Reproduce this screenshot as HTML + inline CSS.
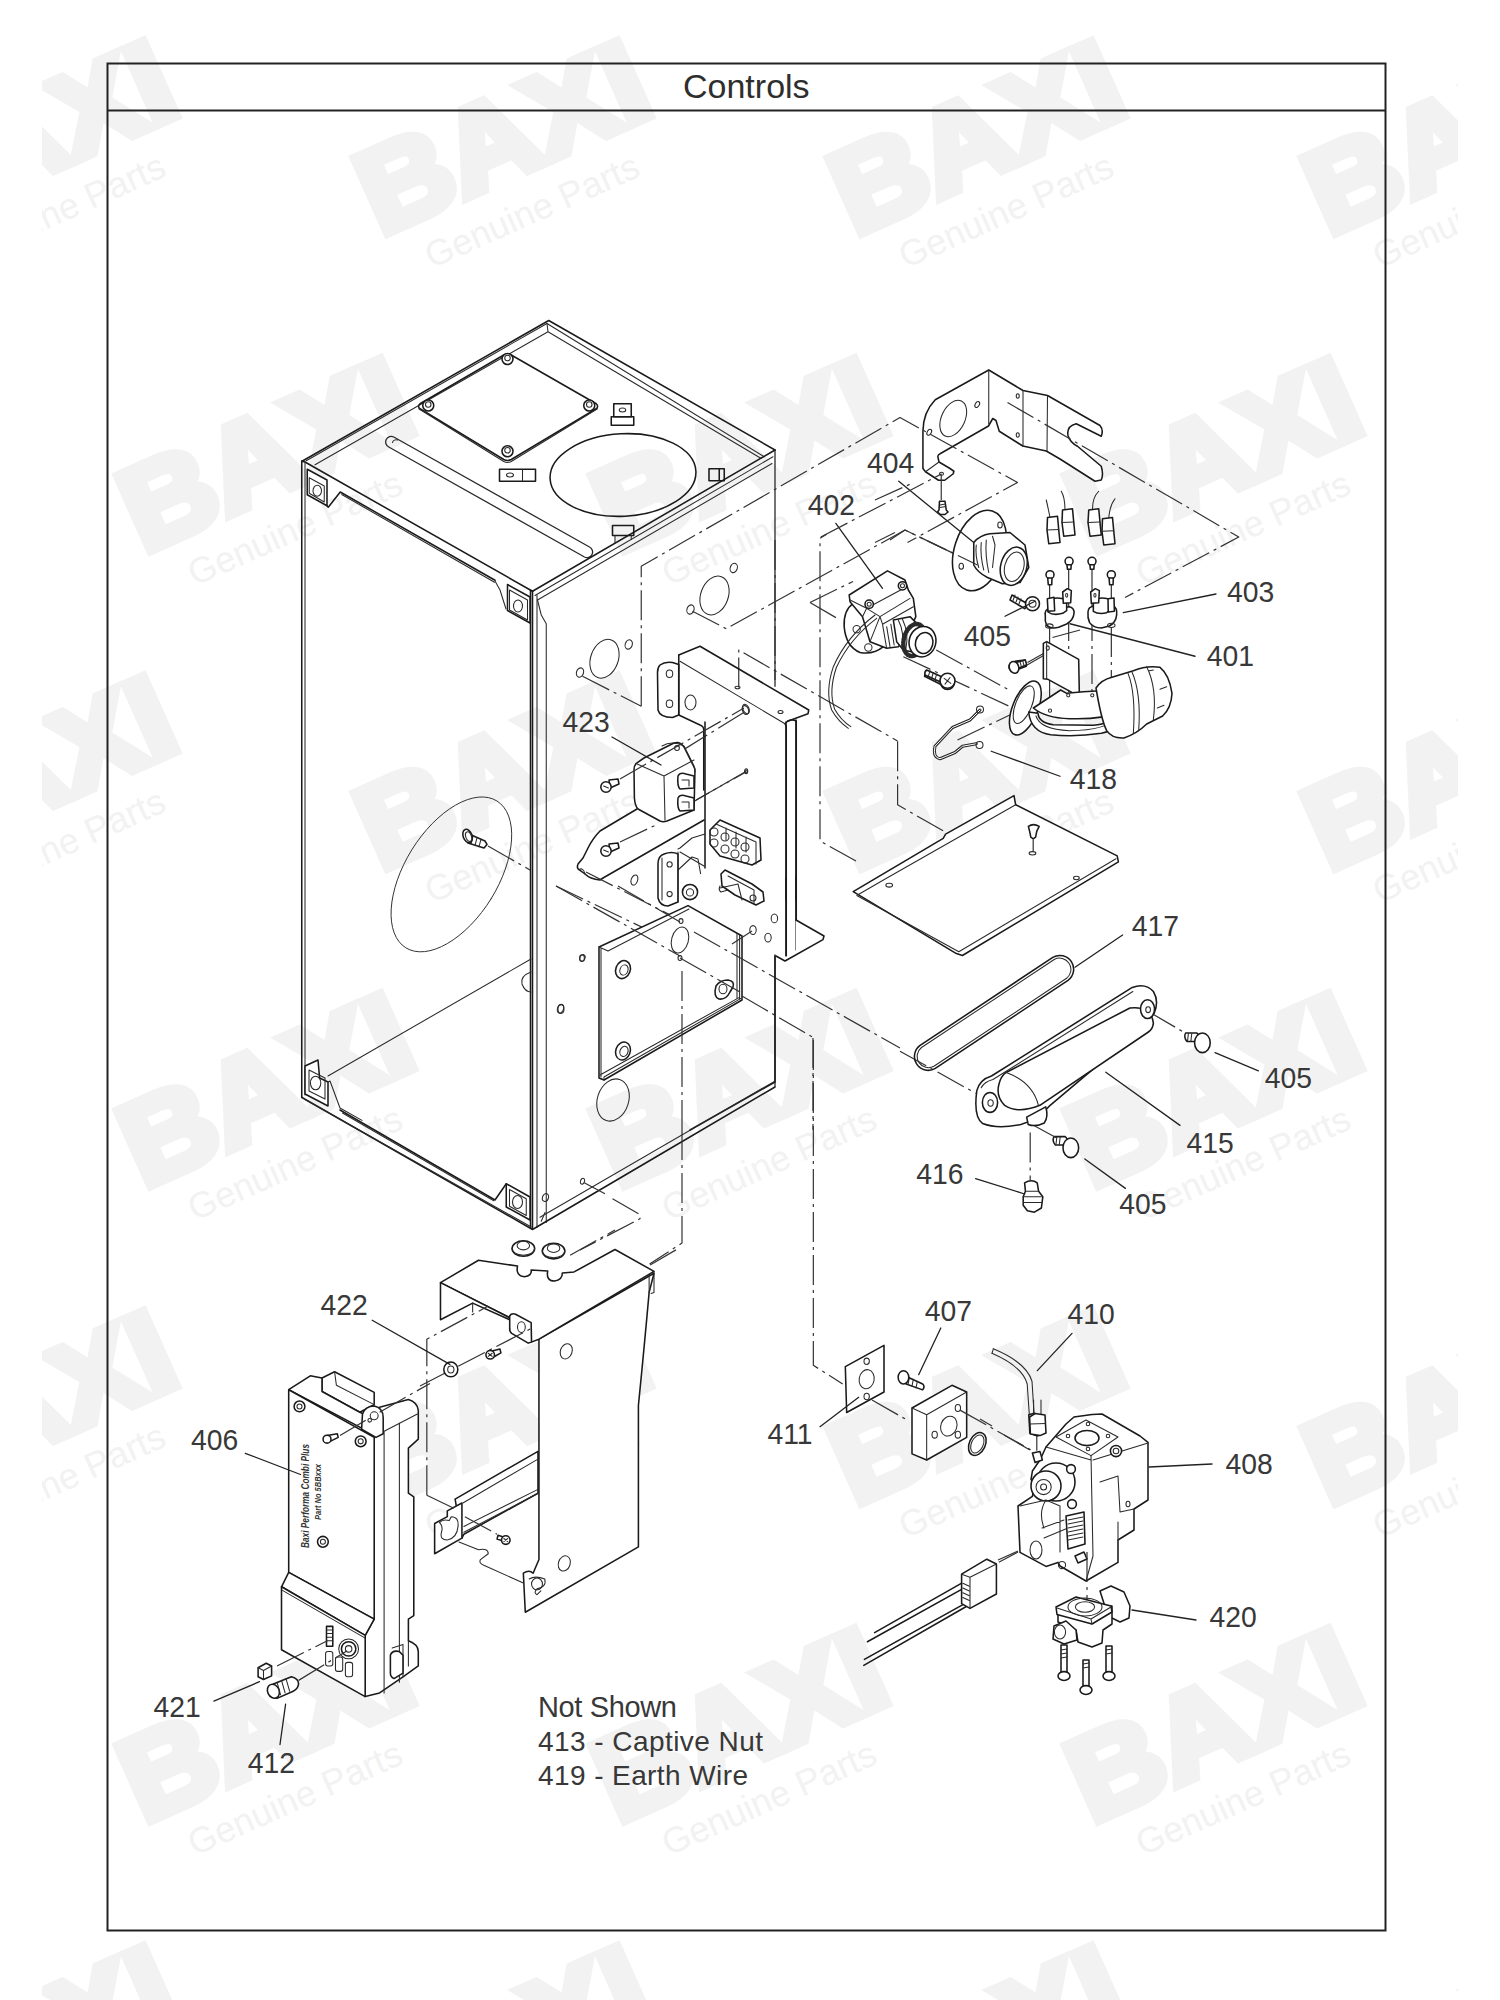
<!DOCTYPE html>
<html><head><meta charset="utf-8"><title>Controls</title>
<style>
html,body{margin:0;padding:0;background:#fff;}
body{width:1500px;height:2000px;overflow:hidden;position:relative;font-family:"Liberation Sans",sans-serif;}
svg{position:absolute;left:0;top:0;}
.wmB{font-family:"Liberation Sans",sans-serif;font-weight:bold;font-size:118px;fill:#f2f2f2;stroke:#f2f2f2;stroke-width:10px;stroke-linejoin:miter;}
.wmG{font-family:"Liberation Sans",sans-serif;font-size:36px;fill:#f2f2f2;}
.lbl{font-family:"Liberation Sans",sans-serif;font-size:29.5px;fill:#383838;}
.d,.t,.w,.dd,.ld{vector-effect:non-scaling-stroke;stroke-linejoin:round;stroke-linecap:round;}
.d{fill:none;stroke:#1a1a1a;stroke-width:1.55;}
.t{fill:none;stroke:#2a2a2a;stroke-width:1.05;}
.w{fill:#fff;stroke:#1a1a1a;stroke-width:1.55;}
.dd{fill:none;stroke:#333;stroke-width:1.2;stroke-dasharray:30 5 3 5;stroke-linecap:butt;}
.ld{fill:none;stroke:#222;stroke-width:1.3;}
</style></head>
<body>
<svg width="1500" height="2000" viewBox="0 0 1500 2000">
<defs>
<clipPath id="wmclip"><rect x="42" y="0" width="1416" height="2000"/></clipPath>
<g id="wm">
<text class="wmB" x="0" y="0" transform="scale(1.076,1)">BAXI</text>
<text class="wmG" x="33.5" y="51">Genuine Parts</text>
</g>
</defs>
<g clip-path="url(#wmclip)" id="wmlayer">
<use href="#wm" transform="translate(-330.5,-81.6) rotate(-24)"/>
<use href="#wm" transform="translate(143.5,-81.6) rotate(-24)"/>
<use href="#wm" transform="translate(617.5,-81.6) rotate(-24)"/>
<use href="#wm" transform="translate(1091.5,-81.6) rotate(-24)"/>
<use href="#wm" transform="translate(-93.5,235.9) rotate(-24)"/>
<use href="#wm" transform="translate(380.5,235.9) rotate(-24)"/>
<use href="#wm" transform="translate(854.5,235.9) rotate(-24)"/>
<use href="#wm" transform="translate(1328.5,235.9) rotate(-24)"/>
<use href="#wm" transform="translate(-330.5,553.4) rotate(-24)"/>
<use href="#wm" transform="translate(143.5,553.4) rotate(-24)"/>
<use href="#wm" transform="translate(617.5,553.4) rotate(-24)"/>
<use href="#wm" transform="translate(1091.5,553.4) rotate(-24)"/>
<use href="#wm" transform="translate(-93.5,870.9) rotate(-24)"/>
<use href="#wm" transform="translate(380.5,870.9) rotate(-24)"/>
<use href="#wm" transform="translate(854.5,870.9) rotate(-24)"/>
<use href="#wm" transform="translate(1328.5,870.9) rotate(-24)"/>
<use href="#wm" transform="translate(-330.5,1188.4) rotate(-24)"/>
<use href="#wm" transform="translate(143.5,1188.4) rotate(-24)"/>
<use href="#wm" transform="translate(617.5,1188.4) rotate(-24)"/>
<use href="#wm" transform="translate(1091.5,1188.4) rotate(-24)"/>
<use href="#wm" transform="translate(-93.5,1505.9) rotate(-24)"/>
<use href="#wm" transform="translate(380.5,1505.9) rotate(-24)"/>
<use href="#wm" transform="translate(854.5,1505.9) rotate(-24)"/>
<use href="#wm" transform="translate(1328.5,1505.9) rotate(-24)"/>
<use href="#wm" transform="translate(-330.5,1823.4) rotate(-24)"/>
<use href="#wm" transform="translate(143.5,1823.4) rotate(-24)"/>
<use href="#wm" transform="translate(617.5,1823.4) rotate(-24)"/>
<use href="#wm" transform="translate(1091.5,1823.4) rotate(-24)"/>
<use href="#wm" transform="translate(-93.5,2140.9) rotate(-24)"/>
<use href="#wm" transform="translate(380.5,2140.9) rotate(-24)"/>
<use href="#wm" transform="translate(854.5,2140.9) rotate(-24)"/>
<use href="#wm" transform="translate(1328.5,2140.9) rotate(-24)"/>
</g>

<!-- frame -->
<rect x="107.5" y="63.5" width="1278" height="1867" fill="none" stroke="#222" stroke-width="2"/>
<line x1="107" y1="110.5" x2="1386" y2="110.5" stroke="#222" stroke-width="2"/>
<text x="683" y="97.5" style="font-size:34px;fill:#2e2e2e">Controls</text>

<g id="diagram">
<!-- G1 top face, zoom [280,310] x4 -->
<g>
<path class="d" d="M 302 461.25 L 548.75 320.5 L 775 450"/>
<path class="t" d="M 306.25 460.75 L 547 323.5 L 764.25 456.75"/>
<path class="t" d="M 315 464.75 L 548 331.75 L 761.25 458.5 M 547 323.5 L 548 331.75"/>
<path class="d" d="M 302 461.25 L 305 462 L 532.5 591.25"/>
<path class="d" d="M 327 505.75 L 328.25 507.25 L 340.25 492 L 495 580.25"/>
<path class="t" d="M 341.75 494.5 L 494.5 582.25"/>
<path class="w" d="M 307.25 469.25 L 327 480 L 327 505.75 L 307.25 494.75 Z"/>
<path class="t" d="M 309.25 477.75 L 324.25 486 L 324.25 502 L 309.25 493.25 Z"/>
<ellipse class="t" cx="317.25" cy="490.75" rx="4.25" ry="5.5"/>
<!-- access panel -->
<path class="d" d="M 420 403.75 Q 417 406.25 420 408.75 L 503.75 459.5 Q 507.5 461.5 511.25 459.5 L 596.25 408.75 Q 599 406.25 596.25 403.75 L 511.25 355 Q 507.5 353 503.75 355 Z"/>
<path class="t" d="M 418.75 408.75 L 503.75 461.5 Q 507.5 463.5 511.25 461.5 L 597.5 408.75"/>
<circle class="w" cx="428.25" cy="405.5" r="5.5"/><circle class="t" cx="428.25" cy="404.5" r="2.75"/>
<circle class="w" cx="507.5" cy="359" r="5.5"/><circle class="t" cx="507.5" cy="358" r="2.75"/>
<circle class="w" cx="589.25" cy="405.5" r="5.5"/><circle class="t" cx="589.25" cy="404.5" r="2.75"/>
<circle class="w" cx="507.5" cy="451.25" r="5.5"/><circle class="t" cx="507.5" cy="450.25" r="2.75"/>
<!-- slot -->
<path class="t" d="M 393.75 437 L 589.5 547 A 5.5 5.5 0 0 1 584.5 557 L 388.75 447 A 5.5 5.5 0 0 1 393.75 437 Z" style="stroke-width:1.3"/>
<path class="t" d="M 392.5 442.5 A 3.75 3.75 0 0 1 397.5 440"/>
<!-- tabs -->
<rect class="d" x="499.5" y="469.25" width="36" height="12"/>
<line class="t" x1="522.5" y1="469.25" x2="522.5" y2="481.25"/>
<ellipse class="t" cx="510" cy="475" rx="3.5" ry="2"/>
<rect class="d" x="613.75" y="403.75" width="17.5" height="13"/>
<rect class="d" x="611.25" y="416.75" width="22.5" height="8.5"/>
<ellipse class="t" cx="622.5" cy="410" rx="3.25" ry="2"/>
<rect class="d" x="612.5" y="525.5" width="21.25" height="10"/>
<path class="t" d="M 615 535.5 L 615 542.5 M 631.25 535.5 L 631.25 539.5"/>
<path class="d" d="M 709 468.75 L 724.25 468.75 L 724.25 480.75 L 709 480.75 Z M 719.25 468.75 L 719.25 480.75"/>
<ellipse class="d" cx="623" cy="475" rx="73" ry="41.25" transform="rotate(-3 623 475)"/>
<!-- left vertical edge -->
<path class="d" d="M 301.75 461 L 301.75 1097.5"/>
<path class="t" d="M 305 462 L 305 1095"/>
</g>
</g>


<!-- G2 right face upper, zoom [500,540] x4 -->
<g>
<path class="d" d="M 532.5 591.25 L 775 450"/>
<path class="t" d="M 535 595.5 L 773 456.75"/>
<path class="t" d="M 537.5 600 L 772 463.5"/>
<path class="d" d="M 530.5 590 L 530.5 1227.5"/>
<path class="d" d="M 532.5 591.25 L 532.5 1228.75"/>
<path class="t" d="M 537 595.5 L 537 1227.5"/>
<path class="t" d="M 537.5 600 L 541.25 615 L 546.25 623.75 L 546.25 1222.5"/>
<path class="t" d="M 775 450 L 775 686.25 M 775 955 L 775 1086.25" style="stroke-width:1.3"/>
<ellipse class="t" cx="604.5" cy="658.75" rx="13.75" ry="20" transform="rotate(20 604.5 658.75)"/>
<ellipse class="t" cx="580" cy="672.5" rx="3.5" ry="4.75" transform="rotate(20 580 672.5)"/>
<ellipse class="t" cx="628.75" cy="644.5" rx="3.5" ry="4.75" transform="rotate(20 628.75 644.5)"/>
<ellipse class="t" cx="714.5" cy="595.5" rx="13.75" ry="20" transform="rotate(20 714.5 595.5)"/>
<ellipse class="t" cx="690.5" cy="609.5" rx="3.5" ry="4.75" transform="rotate(20 690.5 609.5)"/>
<ellipse class="t" cx="733.75" cy="568" rx="3.5" ry="4.75" transform="rotate(20 733.75 568)"/>

<path class="dd" d="M 582.5 676.25 L 641.25 706.25"/>


<path class="dd" d="M 738.75 687.5 L 738.75 650 L 897.5 741"/>
<ellipse class="t" cx="737.5" cy="687.5" rx="2.5" ry="1.25"/>
<!-- 423 bracket -->
<path class="w" d="M 660 665 Q 665 661.25 672.5 662.5 L 678.75 664.5 L 678.75 715 L 672.5 717.5 Q 660 717.5 658 710 L 657.5 672.5 Q 657.5 667.5 660 665 Z"/>
<ellipse class="t" cx="669.5" cy="673.75" rx="3.25" ry="3.75"/>
<ellipse class="t" cx="669.5" cy="703.75" rx="3.25" ry="3.75"/>
<path class="d" d="M 678.75 655 L 700 646.25 L 808.75 710 L 808 713.75 L 787.5 721.25 L 785 723.75 L 786.25 726.25"/>
<path class="d" d="M 678.75 655 L 678.75 715 L 700 725 Q 703.75 726.25 703.75 730 L 703.75 790"/>
<path class="t" d="M 680 661.25 L 785 723.75"/>
<path class="d" d="M 786.25 726.25 L 786.25 960 M 796.25 721.25 L 796.25 950 M 787.5 721.25 Q 792.5 718.75 796.25 721.25"/>
<ellipse class="t" cx="690.5" cy="702.5" rx="5.5" ry="7.5"/>
<ellipse class="t" cx="745.5" cy="710" rx="3" ry="4.5" transform="rotate(-20 745.5 710)"/>
<ellipse class="t" cx="780.5" cy="712" rx="2.5" ry="1.5"/>
<path class="dd" d="M 743.75 712.5 L 675 755"/>
<path class="dd" d="M 746.25 771.25 L 675 812.5"/>
<ellipse class="t" cx="746.25" cy="771.25" rx="1.5" ry="2.5"/>

<path class="dd" d="M 775 540 L 775 680"/>
</g>


<!-- G3 upper right, zoom [875,370] x4 -->
<g>
<!-- 404 bracket -->
<path class="w" d="M 922.92 468.5 L 922.92 431.25 Q 923 412.5 935.25 399.75 L 988.75 370 L 1023 390.5 L 1047.5 395.5 L 1100 425.5 Q 1103.75 430 1101.25 436.25 L 1076.25 423.75 Q 1066.25 426.25 1068 435.5 Q 1070 442.5 1077.5 446.25 L 1101.25 466.25 Q 1103.75 475 1101.25 480 L 1095 481.25 L 1060 459 L 1046.25 451 L 1022.75 446 L 999.25 431.25 L 996 420.5 L 992.75 418.5 L 988.5 426 L 940.5 453.5 Q 937.5 455 937.88 456.75 L 939 462 L 950 468.5 L 953.88 471.25 L 953.25 473.75 L 944.75 480.25 L 938.5 480.25 L 925.5 471.75 Z"/>
<path class="t" d="M 925.5 471.75 L 939 462"/>
<path class="t" d="M 988.75 370 L 988.75 424 M 1023 390.5 L 1023 446 M 1047.5 395.5 L 1047 451"/>
<ellipse class="t" cx="953.25" cy="418.5" rx="11.75" ry="19.25" transform="rotate(25 953.25 418.5)"/>
<ellipse class="t" cx="977.25" cy="404.5" rx="2" ry="3.25" transform="rotate(30 977.25 404.5)"/>
<ellipse class="t" cx="929.25" cy="432.25" rx="2" ry="3.25" transform="rotate(30 929.25 432.25)"/>
<ellipse class="t" cx="1017.75" cy="396" rx="1.5" ry="2.25"/>
<ellipse class="t" cx="1017.75" cy="435" rx="1.5" ry="2.25"/>
<ellipse class="t" cx="941.5" cy="473.75" rx="2" ry="1.5"/>

<path class="dd" d="M 875 500 L 913.75 482.5"/>
<path class="dd" d="M 1007.5 402.5 L 1238.75 537 L 1125 597.5"/>
<path class="dd" d="M 941.25 475 L 941.25 500"/>
<path class="dd" d="M 890 540 L 905 530 L 977.5 565"/>
<path class="dd" d="M 875 542.5 L 895 532.5"/>
<!-- screw under foot -->
<path class="w" d="M 939.5 501.25 L 945 501.25 L 946.25 510 L 948 512 L 945 514.5 L 940.5 514.5 L 937.5 512 L 939 510 Z"/>
<path class="t" d="M 940 505 L 945.5 504 M 940 507.5 L 945.75 506.5"/>
<!-- fitting 404 -->
<ellipse class="w" cx="979.5" cy="550.5" rx="25" ry="41.5" transform="rotate(18 979.5 550.5)"/>
<ellipse class="t" cx="1000" cy="525" rx="2.25" ry="3"/>
<ellipse class="t" cx="961.25" cy="566.25" rx="2.25" ry="3"/>
<path class="w" d="M 973.75 542.5 Q 980 535 990 533.75 L 1010 532.5 L 1025 545 L 1028.75 567.5 L 1020 582.5 L 1002.5 583.75 L 987.5 577.5 Q 977.5 572.5 973.75 565 Z"/>
<path class="t" d="M 976.25 545 Q 975 555 978.75 567.5 M 981.25 542.5 Q 980 555 983.75 570 M 986.25 540 Q 985 555 988.75 572.5 M 992.5 536.25 L 995 545 L 992.5 567.5"/>
<ellipse class="w" cx="1013.75" cy="566.25" rx="13" ry="19.5" transform="rotate(15 1013.75 566.25)"/>
<ellipse class="t" cx="1014.25" cy="566.75" rx="9.5" ry="15" transform="rotate(15 1014.25 566.75)"/>
<!-- leader 404 -->
<path class="ld" d="M 898.75 481.25 L 973.75 542.5"/>
<!-- connectors 403 -->
<path class="t" d="M 1050 517.5 Q 1047.5 505 1046.25 500 M 1065 510 Q 1065 497.5 1061.25 491.25 M 1092.5 508.75 Q 1092.5 497.5 1098.75 491.25 M 1108.75 517.5 Q 1110 505 1115 498.75"/>
<path class="w" d="M 1047.5 517.5 L 1057.5 516.25 L 1058.75 530 L 1060 542.5 L 1048.75 543.75 L 1047 530 Z"/>
<path class="t" d="M 1047 530 L 1058.75 529.5"/>
<path class="w" d="M 1062.5 510 L 1072.5 508.75 L 1073.75 522.5 L 1075 535 L 1063.75 536.25 L 1062 522.5 Z"/>
<path class="t" d="M 1062 522.5 L 1073.75 522"/>
<path class="w" d="M 1088.75 510 L 1098.75 508.75 L 1100 522.5 L 1101.25 535 L 1090 536.25 L 1088 522.5 Z"/>
<path class="t" d="M 1088 522.5 L 1100 522"/>
<path class="w" d="M 1102.5 518.75 L 1112.5 517.5 L 1113.75 531.25 L 1115 543.75 L 1103.75 545 L 1102 531.25 Z"/>
<path class="t" d="M 1102 531.25 L 1113.75 530.75"/>
</g>

<!-- G4 zoom [875,560] x4 -->
<g>
<!-- screws 405 -->
<path class="w" d="M 1012 595 L 1027.5 603.75 L 1025 608.75 L 1010 600 Z"/>
<path class="t" d="M 1015 595 L 1013 600.5 M 1018 597 L 1016 602 M 1021 598.75 L 1019 603.75"/>
<circle class="w" cx="1032.5" cy="603.75" r="7"/>
<circle class="t" cx="1032.5" cy="603.75" r="3.5"/>
<path class="w" d="M 926.25 671.25 L 946.25 681.25 L 944.5 686.25 L 924.5 676.25 Z"/>
<path class="t" d="M 930 671.25 L 928 677 M 933.75 673 L 931.75 678.75 M 937.5 675 L 935.5 680.5"/>
<circle class="w" cx="947.5" cy="682.5" r="7"/>
<circle class="t" cx="947.5" cy="682.5" r="3.5"/>
<path class="w" d="M 1015 661.25 L 1025 660 L 1026.25 666.25 L 1016.25 670 Z"/>
<circle class="w" cx="1013" cy="667" r="4"/>
<path class="dd" d="M 1027.5 662.5 L 1047.5 651.25"/>
<path class="dd" d="M 936.25 650 L 1011.25 691.25"/>
<path class="dd" d="M 957.5 740 L 1015 712.5"/>
<path class="dd" d="M 1052.5 637.5 L 1080 630"/>
<!-- clip 418 -->
<path class="t" d="M 980 710 Q 975 715 970 720 L 952.5 727.5 L 935 746.25 Q 932.5 757.5 940 758.75 L 955 752.5 L 962.5 746.25 L 976.25 743.75" style="stroke-width:3"/>
<path class="t" d="M 980 710 Q 975 715 970 720 L 952.5 727.5 L 935 746.25 Q 932.5 757.5 940 758.75 L 955 752.5 L 962.5 746.25 L 976.25 743.75" style="stroke:#fff;stroke-width:1"/>
<circle class="t" cx="980" cy="709.5" r="3.5"/>
<circle class="t" cx="979.5" cy="745" r="3.5"/>
<!-- 402 part right part (continues from G5) -->

</g>


<!-- G5 402 part, zoom [760,500] x6 -->
<g>

<path class="dd" d="M 856 861 L 820 841 L 820 538.33 L 826.67 534.17"/>
<path class="dd" d="M 810 602.5 L 840 620"/>

<path class="dd" d="M 903.33 656.67 L 1010 706.67"/>




<!-- back disc -->
<path class="w" d="M 853.33 603.33 Q 843.33 610 844.17 626.67 Q 845.83 646.67 860 652.5 Q 873.33 655 883.33 646.67 L 876.67 608.33 Z"/>
<circle class="t" cx="856.67" cy="629.17" r="3.67"/>
<circle class="t" cx="868.33" cy="647.5" r="3.67"/>
<!-- body -->
<path class="w" d="M 849.17 595 L 887.5 570.83 L 905 580 L 908.33 590 L 913.33 598.33 L 915.83 616.67 L 906.67 636.67 L 898.33 646.67 L 886.67 648.33 L 870 641.67 L 862.5 616.67 L 850 601.67 Z"/>
<path class="t" d="M 850 600 L 866.67 608.33 L 906.67 586.67 M 866.67 608.33 L 880 616.67 L 910 598.33 M 880 616.67 L 882.5 624.17 L 913.33 606.67 M 880 616.67 L 870 641.67 M 882.5 624.17 L 886.67 648.33 M 866.67 608.33 L 862.5 616.67"/>
<circle class="w" cx="869.17" cy="604.17" r="4.17"/><circle class="t" cx="869.17" cy="604.17" r="2"/>
<circle class="w" cx="902.5" cy="585.83" r="4.17"/><circle class="t" cx="902.5" cy="585.83" r="2"/>
<path class="t" d="M 886.67 626.67 L 890 646.67 M 890.83 624.17 L 894.17 645"/>
<!-- nozzle -->
<path class="w" d="M 893.33 620 L 910 616.67 L 920 626.67 L 918.33 653.33 L 903.33 650 L 896.67 641.67 Z"/>
<path class="t" d="M 898.33 620 Q 905 633.33 901.67 648.33 M 902.5 619.17 Q 909.17 633.33 905.83 649.17"/>
<ellipse class="t" cx="914.17" cy="640" rx="10.33" ry="16.33" transform="rotate(15 914.17 640)" style="stroke-width:4.5;stroke:#2a2a2a;stroke-dasharray:1.6 1.2"/>
<ellipse class="w" cx="922.5" cy="641.67" rx="13.33" ry="15.33" transform="rotate(15 922.5 641.67)"/>
<ellipse class="w" cx="924.17" cy="643" rx="8.67" ry="10.67" transform="rotate(15 924.17 643)"/>
<!-- screw -->
<path class="w" d="M 926.67 670 L 941.67 676.67 L 940 681.67 L 925 675 Q 924.17 671.67 926.67 670 Z"/>
<path class="t" d="M 930 670.83 L 928.33 676.33 M 933.33 672.5 L 931.67 678 M 936.67 674.17 L 935 679.67"/>
<circle class="w" cx="947.5" cy="680.83" r="7.5"/>
<path class="t" d="M 944.17 678.33 L 950.83 683.33 M 950 677.5 L 945 684.17"/>
<!-- wire -->
<path class="t" d="M 875 615 Q 846.67 636.67 833.33 666.67 Q 825 691.67 831.67 710 Q 838.33 721.67 848.33 728.33"/>
<path class="t" d="M 876.67 618.33 Q 850 638.33 836.33 667.5 Q 828.33 691.67 834.67 709.17 Q 840.83 720 850.83 726.67"/>
<path class="ld" d="M 835.83 523.33 L 882.5 588.33"/>
</g>


<!-- G7 423 area, zoom [540,700] x5 -->
<g>
<path class="d" d="M 705 722 L 705 868"/>
<path class="d" d="M 786 722 L 786 900 M 796 720 L 796 900"/>
<!-- relay plate -->
<path class="w" d="M 637 809 L 600 831 Q 593 838 588 848 L 583 858 L 578 864 Q 576.4 868 579 869.6 L 585 874 Q 590 879 600 880 L 603 878 L 704 820 L 704 812 L 680 812 Z" style="stroke:none"/>
<path class="d" d="M 637 809 L 600 831 Q 593 838 588 848 L 583 858 L 578 864 Q 576.4 868 579 869.6 L 585 874 Q 590 879 600 880 L 603 878 L 704 820"/>
<path class="t" d="M 579 869.6 Q 583 867 585 874"/>
<path class="t" d="M 676 868 L 678 870 L 692 857 L 698 859 L 700.6 873.6"/>
<!-- lower tab bracket -->
<path class="w" d="M 664 854 Q 658 856 658 864 L 658 898 Q 660 906 668 906 L 678 902 L 678 854 Q 672 851 664 854 Z"/>
<path class="t" d="M 662 858 L 662 900"/>
<circle class="t" cx="669.6" cy="864.4" r="2.6"/><circle class="t" cx="669.6" cy="894" r="2.6"/>
<path class="t" d="M 678 852 L 678 902 M 678 849 L 680 848 L 692 838 L 705 834 M 680 852 L 704 866"/>
<circle class="w" cx="690" cy="892" r="7.6"/><circle class="t" cx="690" cy="892.4" r="3.6"/>
<!-- relay -->
<path class="w" d="M 636 763.6 Q 634 766 634 770 L 634.4 798 Q 635 806 638 809 L 660 821 Q 663 822.4 667 821 L 694 810 L 695 769 L 684 747 Q 680 741 674 743 L 644 758 Z"/>
<path class="t" d="M 636 763.6 L 664 776 L 694 760 M 664 776 L 665 820"/>
<path class="w" d="M 678 776 Q 680 772 686 774 L 694 776 L 694 788 L 680 789 Q 677 786 678 776 Z"/>
<path class="w" d="M 678 798 Q 680 794 686 796 L 694 798 L 694 810 L 680 811 Q 677 808 678 798 Z"/>
<path class="t" d="M 682 780 L 689 780 L 689 786 M 682 802 L 689 802 L 689 808"/>
<path class="t" d="M 662 746 Q 672 740 684 746 L 694 766 L 695 772"/>
<circle class="t" cx="677" cy="748" r="2.4"/>
<!-- screws -->
<path class="w" d="M 609 780 L 618 779 L 619 784 L 610 788 Z"/>
<circle class="w" cx="606" cy="787" r="5.2"/><path class="t" d="M 603.6 786 L 608.4 788"/>
<path class="w" d="M 609 844 L 618 843 L 619 848 L 610 852 Z"/>
<circle class="w" cx="606" cy="851" r="5.2"/><path class="t" d="M 603.6 850 L 608.4 852"/>
<path class="dd" d="M 620 779 L 744 708"/>
<ellipse class="t" cx="746" cy="709" rx="3" ry="5" transform="rotate(-25 746 709)"/>
<path class="dd" d="M 620 842 L 658 824"/>
<path class="dd" d="M 696 800 L 746 772"/>
<circle class="t" cx="746" cy="771.4" r="1.4"/>
<!-- terminal block -->
<path class="w" d="M 710 830 L 720 820 L 760 838 L 761 860 L 752 865 L 720 856 L 710 844 Z"/>
<path class="t" d="M 716 824 L 756 842 L 756 864 M 726 828 L 726 840 M 736 832 L 736 848 M 746 837 L 746 852"/>
<circle class="t" cx="714" cy="832" r="4"/><circle class="t" cx="725" cy="837" r="4"/><circle class="t" cx="735" cy="842" r="4"/><circle class="t" cx="745" cy="847" r="4"/>
<circle class="t" cx="714" cy="843" r="4"/><circle class="t" cx="725" cy="849" r="4"/><circle class="t" cx="735" cy="854" r="4"/><circle class="t" cx="745" cy="859" r="4"/>
<!-- connector -->
<path class="w" d="M 721 874 L 725 870 L 752 884 L 763 892 L 764 901 L 756 905 L 735 895 L 722 886 Z"/>
<path class="t" d="M 720 888 L 738 884 L 742 900 M 728 876 L 754 890 L 754 904 M 720 886 Q 718 890 721 892 L 728 890"/>
<circle class="t" cx="753" cy="898" r="3"/>
<!-- holes -->
<ellipse class="t" cx="634.4" cy="880" rx="3.2" ry="5.2" transform="rotate(20 634.4 880)"/>
<ellipse class="t" cx="774.4" cy="918.4" rx="3.2" ry="4.4"/>
<ellipse class="t" cx="768" cy="937.6" rx="3.2" ry="4.4"/>
<ellipse class="t" cx="753" cy="930" rx="3.2" ry="4.4"/>
<path class="ld" d="M 612 737 L 661 765"/>
<path class="dd" d="M 556 886 L 652 932"/>
<path class="dd" d="M 586 872 L 680 920"/>

</g>


<!-- G8 PCB plate, zoom [540,880] x5 -->
<g>
<path class="w" d="M 599 947 L 688 905.6 L 742 936 L 742 1000 L 604 1080 L 599 1078 Z"/>
<path class="t" d="M 599 947 L 608 951 L 689 909 M 601 948 L 601 1077 M 737 933.6 L 737 998 M 739.6 934.4 L 739.6 999.2 M 600 1075 L 739 997.6 M 604 1080 L 604 1077 L 741 998.4"/>
<ellipse class="w" cx="623" cy="969.6" rx="7.2" ry="9.2" transform="rotate(20 623 969.6)"/>
<ellipse class="t" cx="624" cy="970" rx="4" ry="5.2" transform="rotate(20 624 970)"/>
<ellipse class="w" cx="623" cy="1051" rx="7.2" ry="9.2" transform="rotate(20 623 1051)"/>
<ellipse class="t" cx="624" cy="1051.4" rx="4" ry="5.2" transform="rotate(20 624 1051.4)"/>
<path class="w" d="M 716 986 Q 720 980 728 980 Q 735 981 733 987 L 730 992 Q 726 1000 719 999 Q 713 997 716 986 Z"/>
<ellipse class="t" cx="723" cy="989" rx="4" ry="4.8"/>
<ellipse class="t" cx="680" cy="940" rx="8.4" ry="13.2" transform="rotate(15 680 940)"/>
<ellipse class="t" cx="681" cy="921" rx="2" ry="2.4"/>
<ellipse class="t" cx="680" cy="958" rx="2" ry="2.4"/>
<ellipse class="t" cx="582" cy="958" rx="2.4" ry="3.2"/>
<ellipse class="t" cx="561" cy="1009" rx="3" ry="4.4"/>
<ellipse class="t" cx="613" cy="1100" rx="15.6" ry="21.6" transform="rotate(18 613 1100)"/>
<path class="dd" d="M 682 971 L 682 1130"/>
<path class="dd" d="M 813 1038 L 813 1130"/>
<path class="dd" d="M 556 886 L 680 956"/>
<path class="dd" d="M 618 886 L 680 922"/>
<path class="dd" d="M 694 932 L 900 1048"/>
<path class="dd" d="M 680 958 L 740 992"/>
<path class="dd" d="M 742 996 L 814 1038"/>
<path class="dd" d="M 732 944 L 752 931"/>
<path class="d" d="M 690 1130 L 775 1082 L 775 956"/>
<path class="w" d="M 796 920 L 824 936 L 822 940 L 784 961 L 776 956 L 796 956 Z" style="stroke:none"/>
<path class="d" d="M 796 920 L 824 936 L 823 939.6 L 785 961 L 776 956"/>
<path class="d" d="M 786 878 L 786 956 M 796 876 L 796 920"/>
</g>


<!-- G6 left face, zoom [290,770] x5 -->
<g>
<ellipse class="t" cx="451.4" cy="874.4" rx="46.6" ry="86.4" transform="rotate(31.8 451.4 874.4)" style="stroke:#333;stroke-width:1"/>
<path class="w" d="M 469 834 L 485 841 L 487 844.4 L 484 848 L 468 843 Z"/>
<path class="t" d="M 473 836 L 471 844 M 477 837.6 L 475 845.6 M 481 839.2 L 479 846.8"/>
<ellipse class="w" cx="467.6" cy="836" rx="4.4" ry="7" transform="rotate(-20 467.6 836)"/>
<ellipse class="t" cx="468.6" cy="836.6" rx="2.8" ry="5" transform="rotate(-20 468.6 836.6)"/>
<path class="dd" d="M 488 846 L 530 870"/>
<path class="t" d="M 328 1076 L 531 959"/>
<path class="t" d="M 531 972 Q 520 976 522 984 Q 525 992 531 992"/>
<path class="w" d="M 305 1066 L 318 1060 L 319.6 1078 L 328 1082 L 328 1106 L 305 1094 Z"/>
<path class="t" d="M 309 1070 L 325 1078 L 325 1099 L 309 1091 Z"/>
<ellipse class="t" cx="315.6" cy="1083" rx="5.2" ry="6.8"/>
<path class="t" d="M 328 1082 L 330 1081 L 340 1108 L 362 1120.4"/>
</g>


<!-- G9 box bottom, zoom [280,950] x4 -->
<g>
<path class="d" d="M 302 1097.5 L 532.5 1229.5 L 655 1157.5 L 775 1087"/>
<path class="t" d="M 305 1099.5 L 531.25 1227"/>
<path class="d" d="M 340 1110 L 495 1200 L 506.25 1183.75"/>
<path class="t" d="M 342.5 1113 L 493.75 1200.75"/>
<path class="w" d="M 506.25 1183.75 L 530 1197 L 530 1220 L 506.25 1207 Z"/>
<path class="t" d="M 509.5 1189.5 L 526.25 1198.75 L 526.25 1215.5 L 509.5 1206.25 Z"/>
<ellipse class="t" cx="517.5" cy="1202" rx="5" ry="6.5"/>

<path class="t" d="M 545 1212.5 L 541.25 1221.25"/>
<ellipse class="t" cx="582.5" cy="958" rx="2.5" ry="3.5" transform="rotate(20 582.5 958)"/>
<ellipse class="t" cx="560.5" cy="1008.75" rx="3" ry="4.5" transform="rotate(20 560.5 1008.75)"/>
<ellipse class="t" cx="545.5" cy="1197.5" rx="3" ry="4" transform="rotate(20 545.5 1197.5)"/>
<ellipse class="t" cx="582.5" cy="1181.25" rx="2" ry="3" transform="rotate(20 582.5 1181.25)"/>
<path class="dd" d="M 583.75 1182.5 L 605 1193.75"/>
<path class="dd" d="M 612.5 1198.75 L 640 1214.5 L 640 1218.75 L 580 1250"/>
</g>


<!-- G10 tray, zoom [780,680] x4.1667 -->
<g>
<path class="w" d="M 853.2 891.68 L 883.2 873.92 L 943.2 838.4 L 945.6 834.08 L 1014 795.68 L 1015.68 804.8 L 1117.2 855.92 L 1118.4 861.92 L 962.4 955.52 L 956.4 953.6 Z"/>
<path class="t" d="M 858 894.8 L 885.6 878.72 L 948 843.2 L 1015.68 804.8"/>
<path class="t" d="M 1116 858.8 L 958.8 951.68 M 856.8 895.52 L 958.8 951.68"/>
<path class="w" d="M 1028.4 826.4 Q 1033.2 822.8 1039.2 826.4 L 1036.8 831.2 L 1035.6 837.2 L 1033.2 838.88 L 1030.8 837.2 L 1029.6 831.2 Z"/>
<path class="dd" d="M 1033.2 839.6 L 1033.2 851.6"/>
<ellipse class="t" cx="1032.48" cy="853.28" rx="3.36" ry="1.68"/>
<ellipse class="t" cx="889.2" cy="885.2" rx="3.36" ry="1.92"/>
<ellipse class="t" cx="1076.4" cy="878" rx="2.88" ry="1.68"/>
<path class="dd" d="M 897.6 741.2 L 897.6 804.8 L 948 833.6"/>
</g>

<!-- G11 415/417, zoom [900,900] x3.5714 -->
<g>

<!-- 415 moved -->
<!-- screws -->
<path class="w" d="M 1185.6 1033 L 1196.8 1033 Q 1199.6 1034.4 1198.2 1041.4 L 1187 1041.4 Q 1183.36 1037.2 1185.6 1033 Z"/>
<path class="t" d="M 1188.4 1033.56 L 1187.56 1040.84 M 1191.76 1033.56 L 1190.92 1040.84"/>
<ellipse class="w" cx="1202.4" cy="1042.8" rx="7.84" ry="9.8"/>
<path class="w" d="M 1054 1136.6 L 1065.2 1136.6 Q 1068 1138 1066.6 1145 L 1055.4 1145 Q 1051.76 1140.8 1054 1136.6 Z"/>
<path class="t" d="M 1056.8 1137.16 L 1055.96 1144.44 M 1060.16 1137.16 L 1059.32 1144.44"/>
<ellipse class="w" cx="1070.8" cy="1147.8" rx="7.84" ry="9.8"/>
<path class="w" d="M 1024.6 1182.8 Q 1031.6 1178.6 1037.2 1182.8 L 1038.6 1191.2 L 1042.8 1196.8 L 1041.4 1208 L 1034.4 1212.2 L 1027.4 1210.8 L 1023.2 1205.2 L 1023.2 1196.8 L 1025.44 1191.2 Z"/>
<path class="t" d="M 1023.2 1196.8 L 1041.4 1196.8 M 1023.76 1202.4 L 1041.68 1202.4 M 1026.56 1191.2 L 1037.76 1191.2"/>
<path class="dd" d="M 900 1051.2 L 975.6 1093.2"/>
<path class="dd" d="M 995.2 1104.4 L 1056.8 1138"/>
<path class="dd" d="M 1149.2 1012 L 1182.8 1031.6"/>
<path class="dd" d="M 1030.2 1132.4 L 1030.2 1180"/>
</g>


<!-- G12 406 bracket, zoom [420,1230] x5.128 -->
<g>
<!-- grommets -->
<ellipse class="w" cx="523.35" cy="1248.53" rx="11.31" ry="7.8"/>
<ellipse class="t" cx="523.35" cy="1245.6" rx="6.24" ry="4.29"/>
<path class="t" d="M 512.04 1248.53 Q 512.63 1254.38 523.35 1255.35 Q 534.08 1254.38 534.66 1248.53"/>
<ellipse class="w" cx="553.58" cy="1251.06" rx="11.31" ry="7.8"/>
<ellipse class="t" cx="553.58" cy="1248.14" rx="6.24" ry="4.29"/>
<path class="t" d="M 542.27 1251.06 Q 542.85 1256.91 553.58 1257.89 Q 564.31 1256.91 564.89 1251.06"/>
<path class="dd" d="M 570.16 1255.35 L 615.01 1230"/>
<path class="dd" d="M 650.11 1265.1 L 679.95 1247.55"/>
<!-- main plate -->
<path class="w" d="M 538.95 1339.2 L 654.01 1273.29 L 649.13 1292.4 Q 644.26 1347 638.41 1405.51 L 638.41 1546.89 L 525.3 1612.22 L 523.35 1573.21 Q 529.2 1569.31 533.1 1573.21 L 538.95 1559.56 Z"/>
<path class="t" d="M 649.13 1273.88 L 649.13 1292.4 M 654.01 1271.93 L 654.01 1292.4 L 651.08 1293.38"/>
<!-- top face -->
<path class="w" d="M 440.48 1282.65 L 478.5 1260.23 L 517.5 1266.08 Q 515.55 1275.83 524.33 1276.8 Q 532.13 1275.83 531.15 1269.98 L 547.73 1270.95 Q 545.78 1281.09 554.56 1281.09 Q 562.36 1279.73 562.36 1272.9 L 574.06 1271.93 L 615.01 1249.5 L 654.01 1271.34 L 538.95 1339.2 L 531.15 1342.13 L 509.7 1317.75 Z"/>
<path class="t" d="M 442.43 1284.99 L 509.7 1317.75"/>
<!-- left flange -->
<path class="w" d="M 440.48 1282.65 L 509.7 1317.75 L 509.7 1319.7 L 472.65 1303.13 L 440.48 1319.7 Z"/>
<path class="t" d="M 472.65 1303.13 L 472.65 1311.9"/>
<!-- tab -->
<path class="w" d="M 509.7 1315.8 Q 511.65 1312.88 515.55 1314.24 L 531.15 1322.63 L 531.54 1342.13 L 528.23 1343.1 L 511.65 1333.35 Q 509.31 1331.4 509.7 1327.5 Z"/>
<ellipse class="t" cx="521.4" cy="1327.11" rx="3.9" ry="5.46"/>
<!-- holes -->
<ellipse class="t" cx="566.26" cy="1351.29" rx="5.85" ry="7.8" transform="rotate(20 566.26 1351.29)"/>
<ellipse class="t" cx="564.31" cy="1563.46" rx="5.85" ry="7.8" transform="rotate(20 564.31 1563.46)"/>
<!-- bottom plate -->
<path class="w" d="M 455.1 1499.11 L 537.98 1451.33 L 537.98 1493.26 L 463.88 1534.21 L 461.93 1538.11 Z"/>
<path class="t" d="M 462.9 1503.01 L 537.98 1459.13 M 463.88 1526.41 L 537.98 1489.36 M 463.88 1532.26 L 537.98 1493.26"/>
<path class="w" d="M 434.63 1523.49 L 447.3 1516.66 L 447.3 1510.81 L 461.93 1503.01 L 461.93 1538.11 L 434.63 1553.71 Z"/>
<path class="t" d="M 439.5 1522.51 Q 443.4 1518.61 449.25 1520.56 L 451.2 1516.66 Q 459 1516.66 458.03 1526.41 Q 457.05 1538.11 447.3 1540.06 Q 439.5 1540.06 441.45 1532.26 Q 443.4 1526.41 439.5 1522.51 Z"/>
<path class="t" d="M 459 1542.01 L 478.5 1549.81 Q 488.25 1547.86 488.25 1553.71 L 480.45 1559.56 Q 478.5 1563.46 484.35 1565.41 L 523.35 1582.96"/>
<path class="t" d="M 529.2 1579.06 Q 535.05 1575.16 544.8 1579.06 Q 546.76 1586.86 537 1588.81 Q 533.1 1592.71 537 1594.66 L 540.9 1590.76"/>
<ellipse class="t" cx="537" cy="1583.94" rx="5.46" ry="5.85"/>
<!-- dash-dot -->
<path class="dd" d="M 426.83 1495.21 L 426.83 1339.2 L 488.25 1306.05"/>
<path class="dd" d="M 426.83 1495.21 L 455.1 1508.86"/>
<path class="dd" d="M 420 1386.01 L 533.1 1327.5"/>
<!-- screws -->
<path class="w" d="M 492.15 1350.9 L 499.95 1348.95 L 500.93 1352.85 L 494.1 1356.76 Z"/>
<circle class="w" cx="490.2" cy="1354.8" r="4.29"/>
<path class="t" d="M 488.25 1353.24 L 492.15 1356.37 M 492.15 1353.24 L 488.25 1356.37"/>
<path class="w" d="M 498 1535.19 L 505.8 1537.72 L 504.83 1541.62 L 497.03 1539.09 Z"/>
<circle class="w" cx="505.8" cy="1540.06" r="4.29"/>
<path class="t" d="M 503.85 1538.5 L 507.75 1541.62 M 507.75 1538.5 L 503.85 1541.62"/>
<path class="dd" d="M 464.85 1516.66 L 497.03 1534.21"/>
<!-- washer 422 -->
<ellipse class="w" cx="450.81" cy="1369.43" rx="7.02" ry="7.41"/>
<ellipse class="t" cx="450.81" cy="1369.43" rx="3.12" ry="3.51"/>
</g>


<!-- G13 406 control box, zoom [250,1360] x5.556 -->
<g>
<!-- right side body -->
<path class="w" d="M 374.19 1435.59 L 379.59 1407.16 L 408.39 1399.6 Q 417.39 1402.3 418.29 1410.4 L 418.29 1439.19 L 408.39 1448.19 L 408.39 1493.19 L 413.79 1496.79 L 413.79 1615.58 L 408.39 1619.18 L 408.39 1640.78 Q 418.29 1644.38 418.29 1651.58 L 418.29 1665.98 L 402.99 1676.77 L 379.59 1692.97 L 365.19 1696.57 L 365.19 1635.38 L 374.19 1619.18 Z"/>
<path class="t" d="M 384.09 1431.99 L 384.09 1692.97 M 399.39 1422.99 L 399.39 1682.17 M 375.99 1435.59 L 417.39 1414 M 408.39 1640.78 L 408.39 1665.98 M 392.19 1647.98 L 402.99 1644.38 L 402.99 1676.77"/>
<path class="w" d="M 390.39 1655.18 Q 392.19 1649.78 399.39 1651.58 L 402.99 1655.18 L 402.99 1673.17 L 393.99 1678.57 Q 390.39 1676.77 390.39 1673.17 Z"/>
<!-- back block -->
<path class="w" d="M 321.99 1378 L 334.59 1371.7 L 374.19 1392.4 L 374.19 1404.64 L 359.79 1412.2 L 321.99 1391.5 Z"/>
<path class="t" d="M 334.59 1371.7 L 336.39 1385.2 L 374.19 1404.64"/>
<!-- top face -->
<path class="w" d="M 288.7 1389.7 L 310.3 1375.84 L 321.99 1378 L 321.99 1391.5 L 359.79 1412.2 L 375.99 1419.4 L 375.99 1435.59 Z"/>
<path class="t" d="M 291.4 1392.4 L 374.19 1437.39"/>
<!-- front face upper -->
<path class="w" d="M 288.7 1389.7 L 374.19 1437.39 L 374.19 1619.18 L 288.7 1572.38 Z"/>
<!-- chamfer & lower -->
<path class="w" d="M 288.7 1572.38 L 374.19 1619.18 L 365.19 1635.38 L 281.5 1586.78 Z"/>
<path class="w" d="M 281.5 1586.78 L 365.19 1635.38 L 365.19 1696.57 L 281.5 1649.78 Z"/>
<path class="t" d="M 282.4 1590.38 L 365.19 1638.08"/>
<!-- tab -->
<path class="w" d="M 362.49 1414 Q 365.19 1405.9 374.19 1405.9 Q 383.19 1407.7 383.19 1417.6 L 383.19 1433.79 L 375.99 1437.39 L 361.59 1429.29 Z"/>
<circle class="t" cx="374.19" cy="1415.8" r="3.96"/><circle class="t" cx="369.69" cy="1420.3" r="1.8"/>
<!-- screws on face -->
<circle class="w" cx="299.5" cy="1406.44" r="5.4"/><circle class="t" cx="299.5" cy="1406.44" r="2.52"/>
<circle class="w" cx="360.69" cy="1441.35" r="5.4"/><circle class="t" cx="360.69" cy="1441.35" r="2.52"/>
<circle class="w" cx="322.89" cy="1541.79" r="5.4"/><circle class="t" cx="322.89" cy="1541.79" r="2.52"/>
<path class="w" d="M 327.39 1435.59 L 337.29 1433.79 L 338.19 1437.39 L 329.19 1441.89 Z"/>
<circle class="w" cx="327.03" cy="1439.19" r="3.96"/>
<path class="dd" d="M 339.99 1435.59 L 366.99 1419.4"/>
<path class="dd" d="M 379.59 1412.2 L 429.99 1383.4"/>
<!-- text -->

<!-- bottom controls -->
<rect class="w" x="326.49" y="1626.38" width="6.3" height="19.8"/>
<path class="t" d="M 327.39 1629.98 L 331.89 1629.98 M 327.39 1633.58 L 331.89 1633.58 M 327.39 1637.18 L 331.89 1637.18 M 327.39 1640.78 L 331.89 1640.78"/>
<circle class="t" cx="348.63" cy="1648.88" r="9.9"/><circle class="w" cx="348.63" cy="1648.88" r="7.2"/><circle class="t" cx="348.63" cy="1648.88" r="3.24"/>
<rect class="t" x="325.59" y="1651.58" width="7.2" height="14.4" rx="2.16"/>
<rect class="t" x="335.49" y="1656.98" width="7.2" height="14.4" rx="2.16"/>
<rect class="t" x="345.39" y="1662.38" width="7.2" height="14.4" rx="2.16"/>
<path class="dd" d="M 277 1665.98 L 327.39 1640.78"/>
<path class="dd" d="M 298.6 1680.37 L 347.19 1650.68"/>
<!-- 421 button -->
<path class="w" d="M 258.1 1667.78 L 266.2 1663.28 L 271.6 1665.98 L 271.6 1675.87 L 263.5 1679.47 L 258.1 1676.77 Z"/>
<path class="t" d="M 258.1 1667.78 L 263.5 1670.48 L 271.6 1665.98 M 263.5 1670.48 L 263.5 1679.47"/>
<!-- 412 knob -->
<path class="w" d="M 273.4 1683.97 L 291.4 1676.77 Q 298.6 1678.57 298.6 1683.97 Q 297.7 1689.37 293.2 1691.17 L 277 1698.37 Z"/>
<ellipse class="w" cx="273.4" cy="1691.17" rx="5.76" ry="7.2" transform="rotate(-25 273.4 1691.17)"/>
<path class="t" d="M 277 1682.17 L 280.6 1694.77 M 281.5 1680.37 L 285.1 1692.97 M 286 1678.57 L 289.6 1691.17"/>
</g>

<text transform="translate(309 1548) rotate(-90)" textLength="104" lengthAdjust="spacingAndGlyphs" style="font-family:'Liberation Sans',sans-serif;font-size:10.5px;font-weight:bold;font-style:italic;fill:#333">Baxi Performa Combi Plus</text>
<text transform="translate(321 1520) rotate(-90)" textLength="56" lengthAdjust="spacingAndGlyphs" style="font-family:'Liberation Sans',sans-serif;font-size:9px;font-weight:bold;font-style:italic;fill:#333">Part No 5BBxxx</text>

<!-- G14 411/407/410, zoom [760,1280] x3.75 -->
<g>
<path class="dd" d="M 813.33 1040 L 813.33 1365.33 L 842.67 1384"/>
<path class="w" d="M 845.33 1366.67 L 884 1345.33 L 884 1392 L 846.67 1412.53 Z"/>
<ellipse class="t" cx="866.67" cy="1379.2" rx="7.47" ry="9.6" transform="rotate(10 866.67 1379.2)"/>
<ellipse class="t" cx="866.67" cy="1361.33" rx="2.67" ry="3.2"/>
<ellipse class="t" cx="866.67" cy="1396.53" rx="2.67" ry="3.2"/>
<path class="dd" d="M 872 1400 L 909.33 1421.33"/>
<!-- screw 407 -->
<path class="w" d="M 905.33 1376 L 922.67 1384 Q 925.33 1386.67 922.67 1389.87 L 906.13 1384 Z"/>
<path class="t" d="M 909.33 1377.33 L 908 1384.53 M 913.33 1379.2 L 912 1386.13 M 917.33 1381.33 L 916 1388"/>
<ellipse class="w" cx="903.47" cy="1377.33" rx="5.33" ry="6.67"/>
<!-- block 407 -->
<path class="w" d="M 912 1408 L 952 1385.33 L 966.67 1392 L 966.67 1437.33 L 926.67 1460 L 912 1453.87 Z"/>
<path class="t" d="M 912 1408 L 926.67 1414.67 L 966.67 1392 M 926.67 1414.67 L 926.67 1460"/>
<ellipse class="t" cx="948.8" cy="1426.13" rx="8" ry="10.13" transform="rotate(20 948.8 1426.13)"/>
<ellipse class="t" cx="957.87" cy="1408" rx="2.67" ry="3.47"/>
<ellipse class="t" cx="957.87" cy="1434.67" rx="2.67" ry="3.47"/>
<ellipse class="t" cx="934.67" cy="1434.67" rx="2.67" ry="3.47"/>
<ellipse class="d" cx="977.33" cy="1444" rx="8" ry="12" transform="rotate(25 977.33 1444)"/>
<ellipse class="t" cx="977.33" cy="1444" rx="5.87" ry="9.6" transform="rotate(25 977.33 1444)"/>
<path class="dd" d="M 960 1410.13 L 1034.67 1452"/>
<!-- pipe 410 -->
<path class="t" d="M 993.33 1348.8 Q 1026.67 1362.67 1032 1381.33 L 1034.13 1414.67 M 992 1353.33 Q 1022.67 1366.67 1027.2 1384 L 1029.33 1414.67"/>
<path class="t" d="M 993.33 1348.8 L 992 1353.33"/>
<path class="w" d="M 1028.8 1414.67 L 1034.13 1413.33 L 1043.2 1417.33 L 1044 1433.33 L 1037.33 1436 L 1029.87 1433.33 Z"/>
<path class="t" d="M 1029.33 1421.33 L 1043.47 1422.67 M 1029.87 1428 L 1043.73 1428.8"/>
<path class="dd" d="M 1036.8 1436 L 1036.8 1450.67"/>
<path class="ld" d="M 940.8 1328 L 918.67 1374.67"/>
<path class="ld" d="M 1072 1333.33 L 1037.33 1370.67"/>
<path class="ld" d="M 820 1426.67 L 858.67 1397.33"/>
</g>

<!-- G15 gas valve 408 / 420, zoom [980,1400] x5 -->
<g>
<path class="w" d="M 1046 1447 L 1066 1424 L 1074 1417 L 1092 1414.4 L 1102 1414 L 1140 1436 L 1148 1442.4 L 1148 1500 L 1134 1509 L 1134 1530 L 1118 1540 L 1118 1562.4 L 1086 1581 L 1060 1566 L 1058 1562.4 L 1046 1566.4 L 1020 1552.4 L 1018 1506 L 1032.4 1496.4 L 1034.4 1484 L 1031 1479.6 L 1032.4 1471 L 1040 1460 Z"/>
<path class="t" d="M 1056 1437 L 1086 1420 L 1118 1437 L 1091 1455.6 Z"/>
<ellipse class="w" cx="1087" cy="1438" rx="12" ry="7.6"/>
<circle class="t" cx="1068" cy="1436" r="1.8"/><circle class="t" cx="1088" cy="1424" r="1.8"/><circle class="t" cx="1108" cy="1436" r="1.8"/><circle class="t" cx="1088" cy="1449" r="1.8"/>
<path class="t" d="M 1091 1455.6 L 1093 1556 L 1086 1581 M 1046 1447 L 1091 1460 M 1093 1460 L 1148 1443 M 1100 1482 L 1118 1476 L 1120 1512 L 1134 1509 M 1118 1540 L 1118 1522"/>
<circle class="w" cx="1116" cy="1451" r="5.6"/><circle class="t" cx="1116" cy="1451" r="2.8"/>
<ellipse class="t" cx="1128" cy="1504" rx="2" ry="2.8"/>
<!-- solenoid round -->
<circle class="w" cx="1056" cy="1482" r="19"/>
<circle class="w" cx="1046" cy="1486" r="15"/>
<circle class="t" cx="1043.6" cy="1487" r="7.6"/>
<circle class="t" cx="1043.6" cy="1487" r="3"/>
<circle class="w" cx="1071" cy="1469" r="4.4"/>
<circle class="w" cx="1072" cy="1504" r="4.4"/>
<!-- lower left block -->
<path class="t" d="M 1020 1506 L 1046 1500 L 1060 1506 L 1060 1552 M 1046 1500 Q 1038 1512 1044 1528 M 1042 1528 L 1064 1520 M 1044 1538 L 1068 1528"/>
<ellipse class="t" cx="1036" cy="1550" rx="6" ry="9"/>
<path class="w" d="M 1066 1516 L 1084 1512 L 1085 1544 L 1068 1549 Z"/>
<path class="t" d="M 1068 1520 L 1083 1517 M 1068 1524 L 1083 1521 M 1068 1528 L 1083 1525 M 1068 1532 L 1083 1529 M 1068 1536 L 1083 1533 M 1068 1540 L 1083 1537"/>
<path class="w" d="M 1075 1556 L 1084 1552 L 1087 1559 L 1078 1563 Z"/>
<circle class="t" cx="1062" cy="1565" r="3.6"/>
<!-- pipe nut top -->
<path class="t" d="M 1033.6 1400 L 1033.6 1414 M 1041 1400 L 1041 1414"/>
<path class="w" d="M 1029.6 1417 L 1035 1413.6 L 1045 1415 L 1046 1433 L 1040 1435.6 L 1030.4 1434 Z"/>
<path class="t" d="M 1030 1424 L 1045.6 1423.6"/>
<path class="w" d="M 1032.4 1453 L 1040 1451.6 L 1042.4 1460 L 1035 1462.4 Z"/>
<path class="dd" d="M 1004 1435 L 1035 1453"/>
<path class="dd" d="M 980 1419 L 992 1426"/>
<path class="dd" d="M 1087 1552 L 1087 1602"/>
<path class="dd" d="M 998 1560 L 1018 1551"/>
<!-- 420 -->
<path class="w" d="M 1100 1591 L 1111 1586 L 1124 1592 L 1130 1606 L 1129 1618 L 1120 1622 L 1108 1616 Z"/>
<path class="w" d="M 1058 1614 L 1058 1622 L 1076 1630 L 1078 1642 L 1092 1647 L 1102 1643 L 1103 1630 L 1112 1624 L 1112 1606 Z"/>
<path class="w" d="M 1056 1607 L 1076 1597 L 1111 1606 L 1112 1612 L 1092 1624 L 1057 1614.4 Z"/>
<path class="t" d="M 1057 1608 L 1091 1619 L 1111 1607 M 1091 1619 L 1092 1624"/>
<ellipse class="t" cx="1085" cy="1607" rx="17" ry="9"/>
<ellipse class="t" cx="1085" cy="1607" rx="9.6" ry="5.2"/>
<path class="w" d="M 1054 1626 L 1066 1621 L 1076 1630 L 1077 1640 L 1064 1644 L 1053 1639 Z"/>
<ellipse class="t" cx="1060" cy="1632" rx="5.6" ry="7"/>
<!-- bolts -->
<path class="w" d="M 1061 1645 L 1067 1645 L 1067 1672 L 1061 1672 Z"/><ellipse class="w" cx="1064" cy="1676" rx="6" ry="4.4"/>
<path class="t" d="M 1061 1650 L 1067 1649 M 1061 1654 L 1067 1653 M 1061 1658 L 1067 1657"/>
<path class="w" d="M 1083 1660 L 1089 1660 L 1089 1686 L 1083 1686 Z"/><ellipse class="w" cx="1086" cy="1690" rx="6" ry="4.4"/>
<path class="t" d="M 1083 1664 L 1089 1663 M 1083 1668 L 1089 1667"/>
<path class="w" d="M 1106 1646 L 1112 1646 L 1112 1672 L 1106 1672 Z"/><ellipse class="w" cx="1109" cy="1676" rx="6" ry="4.4"/>
<path class="t" d="M 1106 1650 L 1112 1649 M 1106 1654 L 1112 1653"/>
<path class="ld" d="M 1149 1467 L 1212 1464"/>
<path class="ld" d="M 1132 1610 L 1196 1620"/>
</g>


<!-- G16 cable, zoom [850,1540] x8.333 -->
<g>
<path class="d" d="M 874.6 1632.64 L 967 1580.2 M 867.4 1641.76 L 965.2 1587.4"/>
<path class="d" d="M 864.4 1659.4 L 967 1602.4 M 863.8 1665.41 L 967.6 1605.76"/>
<path class="w" d="M 961.6 1574.2 L 986.81 1559.2 L 996.41 1564 L 996.41 1594 L 970 1608.4 L 961.6 1603.6 Z"/>
<path class="t" d="M 961.6 1574.2 L 970 1577.2 L 996.41 1564 M 970 1577.2 L 970 1608.4"/>
<path class="t" d="M 962.8 1583.2 L 969.4 1586.2 M 962.8 1588 L 969.4 1591 M 962.8 1592.8 L 969.4 1595.8 M 962.8 1597.6 L 969.4 1600.6"/>
<path class="dd" d="M 998.81 1562.2 L 1018.01 1552"/>
</g>


<!-- F bracket page coords -->
<path class="t" d="M 495 581 L 500 590 L 506 609"/>
<path class="w" d="M 507.5 584.5 L 530 597 L 530 623 L 507.5 610.5 Z"/>
<path class="t" d="M 509.5 590 L 527.5 600 L 527.5 620 L 509.5 610 Z"/>
<ellipse class="t" cx="518" cy="606" rx="4.5" ry="6"/>


<!-- page-coord dash-dot lines -->
<path class="dd" d="M 641.25 706.25 L 641.25 566.25 L 900 417.5 L 1017.5 482.5 L 907.5 542.5"/>
<path class="dd" d="M 692.5 611.25 L 726.25 628.75 L 905 530 L 977.5 565"/>
<path class="dd" d="M 810 602.5 L 853 581.5"/>


<!-- G11b 415, zoom [880,900] x3.409 -->
<g>
<path class="w" d="M 976.8 1090.67 Q 979.74 1079.52 991.47 1076 L 1132.27 987.42 Q 1145.47 982.72 1153.39 991.52 Q 1159.26 1001.2 1154.27 1012.94 L 1144.01 1026.14 L 1050.14 1105.34 Q 1038.4 1120.01 1020.8 1124.41 Q 997.34 1129.39 982.67 1123.53 Q 973.28 1117.07 976.8 1090.67 Z"/>
<path class="t" d="M 981.2 1087.74 Q 984.14 1081.87 992.94 1079.52 L 1132.86 991.52"/>
<path class="w" d="M 1006.14 1072.48 L 1129.93 1007.95 Q 1151.34 1005.6 1153.39 1023.2 Q 1152.81 1029.07 1148.41 1032 L 1039.87 1105.34 Q 1017.87 1114.14 1004.67 1105.34 Q 995.87 1096.54 998.8 1084.8 Q 1000.86 1076 1006.14 1072.48 Z"/>
<path class="t" d="M 1006.14 1072.48 Q 1032.54 1081.87 1038.4 1105.34"/>
<path class="w" d="M 1026.67 1117.07 L 1045.74 1106.81 Q 1048.67 1117.07 1044.27 1122.94 Q 1035.47 1127.34 1028.14 1124.41 Z"/>
<ellipse class="w" cx="990" cy="1102.41" rx="7.63" ry="9.97"/>
<ellipse class="t" cx="990.59" cy="1102.99" rx="2.64" ry="3.23"/>
<ellipse class="w" cx="1147.53" cy="1009.12" rx="7.04" ry="9.39"/>
<ellipse class="t" cx="1148.11" cy="1009.71" rx="2.35" ry="2.93"/>
</g>


<path class="d" d="M 935.3 1068.4 L 1068 980.4 A 13.8 13.8 0 0 0 1052.8 957.4 L 920.1 1045.4 A 13.8 13.8 0 0 0 935.3 1068.4 Z"/>
<path class="t" d="M 933.9 1066.3 L 1066.6 978.3 A 11.3 11.3 0 0 0 1054.2 959.5 L 921.5 1047.5 A 11.3 11.3 0 0 0 933.9 1066.3 Z"/>

<path class="dd" d="M 682 1130 L 682 1243 L 649.6 1264"/>

<!-- G17 elbow/thermostats, zoom [1000,560] x7.5 -->
<g>
<path class="dd" d="M 1049.6 584 L 1049.6 710.67 M 1068.67 568 L 1068.67 692 M 1092 568 L 1092 692 M 1111.33 584 L 1111.33 710.67"/>
<!-- small screws -->
<circle class="w" cx="1050" cy="574.67" r="4"/><path class="w" d="M 1047.73 578 L 1052 578 L 1051.73 584.67 L 1048.27 584.67 Z"/>
<circle class="w" cx="1069.07" cy="561.33" r="4"/><path class="w" d="M 1066.93 564.67 L 1071.2 564.67 L 1070.93 569.33 L 1067.47 569.33 Z"/>
<circle class="w" cx="1092" cy="561.33" r="4"/><path class="w" d="M 1089.87 564.67 L 1094.13 564.67 L 1093.87 569.33 L 1090.4 569.33 Z"/>
<circle class="w" cx="1111.33" cy="574.67" r="4"/><path class="w" d="M 1109.07 578 L 1113.33 578 L 1113.07 584.67 L 1109.6 584.67 Z"/>
<!-- thermostat left -->
<path class="w" d="M 1045.33 616 Q 1044 609.33 1050.67 608 L 1069.33 606.67 Q 1074.67 608 1074 613.33 Q 1073.33 620 1066.67 624 L 1058.67 627.33 Q 1050.67 629.33 1046.67 625.33 Q 1044.67 621.33 1045.33 616 Z"/>
<ellipse class="t" cx="1049.33" cy="626" rx="3.73" ry="2.13"/>
<path class="w" d="M 1048 600 L 1048 612 Q 1053.33 616 1062.67 613.33 L 1066.67 610.67 L 1066.67 600 Q 1057.33 596 1048 600 Z"/>
<path class="w" d="M 1062.67 592 L 1067.33 588.67 L 1071.33 590.67 L 1070.67 602.67 L 1063.33 603.33 Z"/>
<ellipse class="t" cx="1066.67" cy="595.33" rx="1.07" ry="1.87"/>
<path class="w" d="M 1047.33 598.67 L 1054 597.33 L 1054.67 610.67 L 1048 611.33 Z"/>
<!-- thermostat right -->
<path class="w" d="M 1088 612 Q 1088 606.67 1094.67 606 L 1113.33 606 Q 1117.33 608 1116.67 614.67 Q 1116 622.67 1109.33 626 L 1101.33 628 Q 1093.33 628 1089.6 622.67 Q 1087.33 617.33 1088 612 Z"/>
<ellipse class="t" cx="1111.33" cy="625.33" rx="3.73" ry="2.13"/>
<path class="w" d="M 1093.33 600 L 1093.33 611.33 Q 1098.67 614.67 1106.67 612.67 L 1111.33 609.33 L 1111.33 600 Q 1102 596 1093.33 600 Z"/>
<path class="w" d="M 1090.67 592 L 1095.33 588.67 L 1099.33 590.67 L 1098.67 602.67 L 1091.33 603.33 Z"/>
<ellipse class="t" cx="1094.93" cy="595.33" rx="1.07" ry="1.87"/>
<path class="w" d="M 1108 598.67 L 1114 598 L 1114.4 611.33 L 1108.27 612 Z"/>
<!-- L bracket -->
<path class="w" d="M 1043.33 643.33 L 1046.67 641.6 L 1078.67 659.33 L 1079.33 693.33 L 1076 694.67 L 1048 679.33 L 1043.33 678.67 Z"/>
<path class="t" d="M 1046.67 641.6 L 1046.67 679.33"/>
<ellipse class="t" cx="1047.73" cy="648" rx="1.6" ry="2.13"/>
<path class="dd" d="M 1026.67 665.33 L 1044 655.33"/>
<!-- screw -->
<path class="w" d="M 1014.67 662.67 L 1025.33 660 L 1026.67 664.67 L 1016 669.33 Z"/>
<path class="t" d="M 1017.33 662 L 1018.67 667.73 M 1020 661.33 L 1021.33 666.67 M 1022.67 660.67 L 1024 665.6"/>
<ellipse class="w" cx="1014" cy="667.33" rx="4.67" ry="6" transform="rotate(-20 1014 667.33)"/>
<!-- left disc -->
<ellipse class="w" cx="1025.33" cy="708" rx="12.67" ry="28.67" transform="rotate(22 1025.33 708)"/>
<ellipse class="t" cx="1023.73" cy="704.67" rx="8" ry="20" transform="rotate(22 1023.73 704.67)"/>
<!-- U pipe -->
<path class="w" d="M 1028.67 712 Q 1030.67 732 1050.67 734.67 Q 1074.67 737.33 1101.33 733.33 Q 1120 729.33 1126.67 714.67 L 1116 713.33 Q 1112 724 1093.33 725.33 L 1053.33 724.67 Q 1038.67 722.67 1038 713.33 Z"/>
<path class="t" d="M 1036 716 Q 1040 729.33 1069.33 730.67 Q 1106.67 730.67 1120 716"/>
<!-- half-moon plate -->
<path class="w" d="M 1033.33 708 L 1060.67 690 L 1066.67 693.33 Q 1082.67 691.33 1101.33 690.67 L 1128 706.67 L 1124.67 710.67 Q 1101.33 720 1069.33 718.67 Q 1045.33 718 1033.33 708 Z"/>
<circle class="t" cx="1068.27" cy="695.33" r="1.6"/><circle class="t" cx="1092.27" cy="695.33" r="1.6"/>
<circle class="t" cx="1050" cy="710.67" r="1.6"/><circle class="t" cx="1112" cy="710.67" r="1.6"/>
<!-- right coupling -->
<path class="w" d="M 1096 688 Q 1101.33 680 1112 677.33 L 1133.33 670.67 Q 1146.67 665.33 1160 667.33 Q 1169.33 674.67 1172 693.33 Q 1171.33 708 1162.67 716 L 1146.67 724 Q 1137.33 733.33 1124 738 Q 1112 738.67 1106.67 730.67 Q 1101.33 720 1096 688 Z"/>
<path class="t" d="M 1128 673.33 Q 1136 693.33 1133.33 733.33 M 1132 672 Q 1141.33 693.33 1138.67 730.67 M 1146.67 666.67 Q 1157.33 688 1153.33 720 M 1149.33 670.67 L 1153.33 670 M 1160 689.33 L 1166.67 686.67 M 1157.33 708 L 1164 705.33"/>
</g>

<path class="t" d="M 540 1217.2 L 774 1081.6"/>
<path class="dd" d="M 820.8 537 L 941.6 473.9"/>
<g id="labels">
<text class="lbl" transform="translate(867.1 472.7) scale(0.96 1)">404</text>
<text class="lbl" transform="translate(807.7 515.0) scale(0.96 1)">402</text>
<text class="lbl" transform="translate(1227.1 601.7) scale(0.96 1)">403</text>
<text class="lbl" transform="translate(963.7 645.7) scale(0.96 1)">405</text>
<text class="lbl" transform="translate(1206.7 665.7) scale(0.96 1)">401</text>
<text class="lbl" transform="translate(562.4 732.0) scale(0.96 1)">423</text>
<text class="lbl" transform="translate(1069.8 788.5) scale(0.96 1)">418</text>
<text class="lbl" transform="translate(1131.8 936.4) scale(0.96 1)">417</text>
<text class="lbl" transform="translate(1264.8 1088.2) scale(0.96 1)">405</text>
<text class="lbl" transform="translate(1186.4 1152.8) scale(0.96 1)">415</text>
<text class="lbl" transform="translate(916.2 1183.6) scale(0.96 1)">416</text>
<text class="lbl" transform="translate(1119.2 1214.2) scale(0.96 1)">405</text>
<text class="lbl" transform="translate(320.4 1315.1) scale(0.96 1)">422</text>
<text class="lbl" transform="translate(924.7 1321.3) scale(0.96 1)">407</text>
<text class="lbl" transform="translate(1067.4 1324.0) scale(0.96 1)">410</text>
<text class="lbl" transform="translate(767.4 1444.0) scale(0.96 1)">411</text>
<text class="lbl" transform="translate(190.9 1449.5) scale(0.96 1)">406</text>
<text class="lbl" transform="translate(1225.4 1474.0) scale(0.96 1)">408</text>
<text class="lbl" transform="translate(1209.4 1627.0) scale(0.96 1)">420</text>
<text class="lbl" transform="translate(153.6 1717.2) scale(0.96 1)">421</text>
<text class="lbl" transform="translate(247.7 1773.2) scale(0.96 1)">412</text>
<line class="ld" x1="1216" y1="594" x2="1123.3" y2="612.7"/>
<line class="ld" x1="1005" y1="616.25" x2="1035" y2="601.25"/>
<line class="ld" x1="1195" y1="656.25" x2="1070" y2="623.75"/>
<line class="ld" x1="1060" y1="776.25" x2="991.25" y2="751.25"/>
<line class="ld" x1="1122.6" y1="935" x2="1075" y2="967.2"/>
<line class="ld" x1="1258.4" y1="1070.8" x2="1215" y2="1052.6"/>
<line class="ld" x1="1180" y1="1125.4" x2="1105.8" y2="1072.2"/>
<line class="ld" x1="975.6" y1="1178.6" x2="1024.6" y2="1194"/>
<line class="ld" x1="1125.4" y1="1188.4" x2="1084.8" y2="1159"/>
<line class="ld" x1="372.2" y1="1320.3" x2="449.9" y2="1364.4"/>
<line class="ld" x1="245.3" y1="1453.3" x2="300.5" y2="1474.5"/>
<line class="ld" x1="213.9" y1="1701.1" x2="259.5" y2="1681.7"/>
<line class="ld" x1="280" y1="1744.5" x2="285.6" y2="1704.1"/>
</g>

<text class="lbl" x="538" y="1716.8" style="font-size:29px" textLength="139" lengthAdjust="spacing">Not Shown</text>
<text class="lbl" x="538" y="1750.5" style="font-size:28px" textLength="225" lengthAdjust="spacing">413 - Captive Nut</text>
<text class="lbl" x="538" y="1784.5" style="font-size:28px" textLength="210" lengthAdjust="spacing">419 - Earth Wire</text>
</svg>
</body></html>
